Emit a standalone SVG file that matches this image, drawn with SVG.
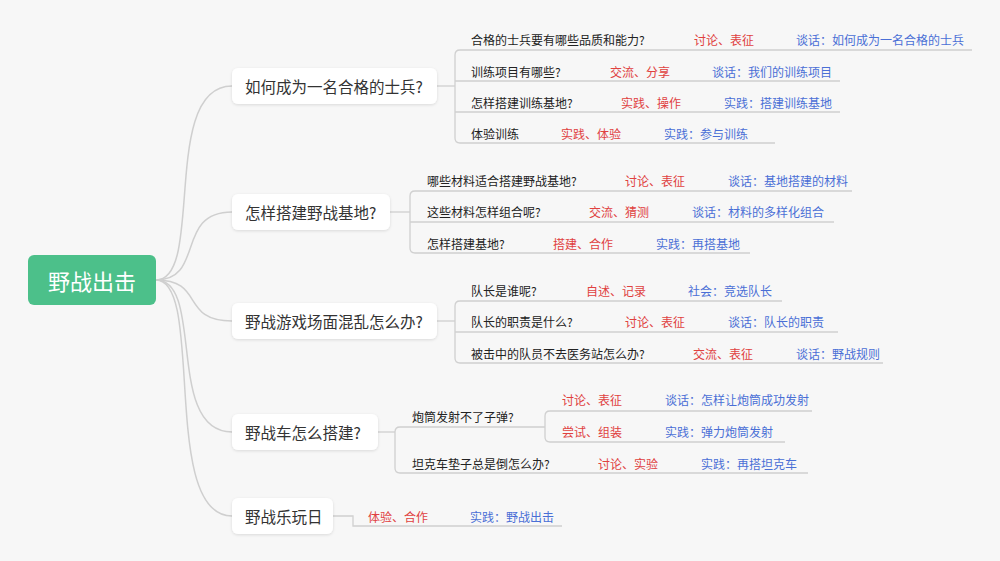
<svg xmlns="http://www.w3.org/2000/svg" width="1000" height="561" viewBox="0 0 1000 561">
<defs>
<filter id="sh" x="-10%" y="-20%" width="120%" height="150%"><feDropShadow dx="0" dy="1" stdDeviation="1.5" flood-color="#000" flood-opacity="0.12"/></filter>
<style>
text{font-family:"Noto Sans CJK SC","Noto Sans",sans-serif;dominant-baseline:central}
.t{font-size:15.5px;fill:#333}
.l{font-size:12px;fill:#222}
.r{font-size:12px;fill:#e0413f}
.b{font-size:12px;fill:#4a6fd6}
.box{fill:#fff;filter:url(#sh)}
.c{fill:none;stroke:#cfcfcf;stroke-width:1.5}
.u{fill:none;stroke:#d0d0d0;stroke-width:1.3}
</style>
</defs>
<rect width="1000" height="561" fill="#f7f7f7"/>
<g id="connectors">
<path class="c" d="M156,280 C205,280 160,86 232,86"/>
<path class="c" d="M156,280 C205,280 175,212 232,212"/>
<path class="c" d="M156,280 C205,280 180,321 232,321"/>
<path class="c" d="M156,280 C205,280 165,432 232,432"/>
<path class="c" d="M156,280 C205,280 160,516 232,516"/>
<path class="u" d="M437,86 H455"/><path class="u" d="M972,50 H460 Q455,50 455,55 V138 Q455,143 460,143 H775"/>
<path class="u" d="M455,81 H840 M455,112 H840"/>
<path class="u" d="M390,212 H410"/><path class="u" d="M852,191 H415 Q410,191 410,196 V248 Q410,253 415,253 H750"/>
<path class="u" d="M410,222 H834"/>
<path class="u" d="M437,321 H455"/><path class="u" d="M782,301 H460 Q455,301 455,306 V358 Q455,363 460,363 H883"/>
<path class="u" d="M455,332 H838"/>
<path class="u" d="M378,432 H395"/><path class="u" d="M545,427 H400 Q395,427 395,432 V468 Q395,473 400,473 H808"/>
<path class="u" d="M812,411 H550 Q545,411 545,416 V437 Q545,442 550,442 H785"/>
<path class="u" d="M333,516 H353 V526 H562"/>
</g>
<g id="root"><rect x="28" y="255" width="128" height="50" rx="6" fill="#4cc08a"/><text x="92" y="280" text-anchor="middle" fill="#fff" style="font-size:22px">野战出击</text></g>
<g id="n1"><rect class="box" x="232" y="68" width="205" height="36" rx="6"/><text class="t" x="245" y="86">如何成为一名合格的士兵?</text>
<text class="l" x="471" y="39">合格的士兵要有哪些品质和能力?</text><text class="r" x="694" y="39">讨论、表征</text><text class="b" x="796" y="39">谈话：如何成为一名合格的士兵</text>
<text class="l" x="471" y="71">训练项目有哪些?</text><text class="r" x="610" y="71">交流、分享</text><text class="b" x="712" y="71">谈话：我们的训练项目</text>
<text class="l" x="471" y="102">怎样搭建训练基地?</text><text class="r" x="621" y="102">实践、操作</text><text class="b" x="724" y="102">实践：搭建训练基地</text>
<text class="l" x="471" y="133">体验训练</text><text class="r" x="561" y="133">实践、体验</text><text class="b" x="664" y="133">实践：参与训练</text></g>
<g id="n2"><rect class="box" x="232" y="194" width="158" height="36" rx="6"/><text class="t" x="245" y="212">怎样搭建野战基地?</text>
<text class="l" x="427" y="180">哪些材料适合搭建野战基地?</text><text class="r" x="625" y="180">讨论、表征</text><text class="b" x="728" y="180">谈话：基地搭建的材料</text>
<text class="l" x="427" y="211">这些材料怎样组合呢?</text><text class="r" x="589" y="211">交流、猜测</text><text class="b" x="692" y="211">谈话：材料的多样化组合</text>
<text class="l" x="427" y="243">怎样搭建基地?</text><text class="r" x="553" y="243">搭建、合作</text><text class="b" x="656" y="243">实践：再搭基地</text></g>
<g id="n3"><rect class="box" x="232" y="303" width="205" height="36" rx="6"/><text class="t" x="245" y="321">野战游戏场面混乱怎么办?</text>
<text class="l" x="471" y="290">队长是谁呢?</text><text class="r" x="586" y="290">自述、记录</text><text class="b" x="688" y="290">社会：竞选队长</text>
<text class="l" x="471" y="321">队长的职责是什么?</text><text class="r" x="625" y="321">讨论、表征</text><text class="b" x="728" y="321">谈话：队长的职责</text>
<text class="l" x="471" y="353">被击中的队员不去医务站怎么办?</text><text class="r" x="693" y="353">交流、表征</text><text class="b" x="796" y="353">谈话：野战规则</text></g>
<g id="n4"><rect class="box" x="232" y="414" width="146" height="36" rx="6"/><text class="t" x="245" y="432">野战车怎么搭建?</text>
<text class="l" x="412" y="416">炮筒发射不了子弹?</text>
<text class="r" x="562" y="399">讨论、表征</text><text class="b" x="665" y="399">谈话：怎样让炮筒成功发射</text>
<text class="r" x="562" y="431">尝试、组装</text><text class="b" x="665" y="431">实践：弹力炮筒发射</text>
<text class="l" x="412" y="463">坦克车垫子总是倒怎么办?</text><text class="r" x="598" y="463">讨论、实验</text><text class="b" x="701" y="463">实践：再搭坦克车</text></g>
<g id="n5"><rect class="box" x="232" y="498" width="101" height="36" rx="6"/><text class="t" x="245" y="516">野战乐玩日</text>
<text class="r" x="368" y="516">体验、合作</text><text class="b" x="470" y="516">实践：野战出击</text></g>
</svg>
